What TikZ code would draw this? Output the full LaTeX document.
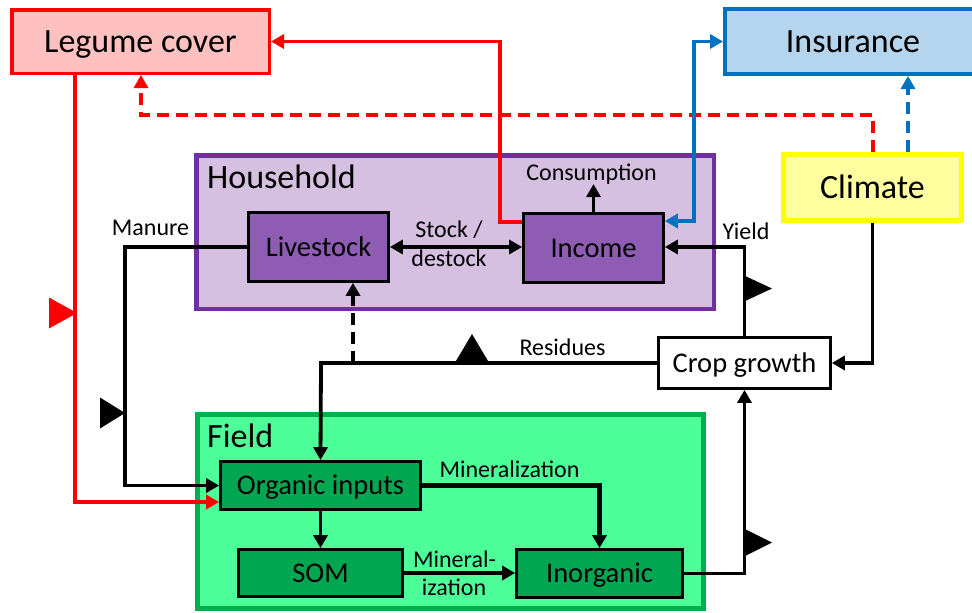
\documentclass[tikz,border=0pt]{standalone}
\usepackage{fontspec}
\setmainfont{Carlito}
\usetikzlibrary{arrows.meta}

\definecolor{legfill}{RGB}{255,192,192}
\definecolor{insfill}{RGB}{180,213,237}
\definecolor{insdraw}{RGB}{0,112,192}
\definecolor{hhfill}{RGB}{214,192,225}
\definecolor{hhdraw}{RGB}{112,48,160}
\definecolor{hhbox}{RGB}{142,92,178}
\definecolor{clifill}{RGB}{255,255,160}
\definecolor{clidraw}{RGB}{255,255,0}
\definecolor{fldfill}{RGB}{76,255,152}
\definecolor{flddraw}{RGB}{0,176,80}
\definecolor{fldbox}{RGB}{0,166,80}

\tikzset{
  box/.style={draw, rectangle, inner sep=0pt, text depth=0pt},
  bigtxt/.style={font=\fontsize{34}{40}\selectfont, text height=21.8pt},
  midtxt/.style={font=\fontsize{28.5}{34}\selectfont, text height=18.2pt},
  titletxt/.style={font=\fontsize{34}{40}\selectfont},
  labtxt/.style={font=\fontsize{24}{28}\selectfont, inner sep=0pt},
  conn/.style={line width=3.8pt},
  arr/.style={-{Triangle[length=13pt,width=14pt]}},
  dblarr/.style={{Triangle[length=13pt,width=14pt]}-{Triangle[length=13pt,width=14pt]}},
  dashline/.style={dash pattern=on 12pt off 7pt},
}

\begin{document}
\begin{tikzpicture}[x=1pt,y=-1pt]
\useasboundingbox (0,0) rectangle (972,613);
\clip (0,0) rectangle (972,613);

% group frames
\node[box, fill=hhfill, draw=hhdraw, line width=4.5pt, minimum width=517.5, minimum height=153.5] (household) at (455,232) {};
\node[anchor=base west, titletxt, inner sep=0pt] (hhtitle) at (207,188) {Household};
\node[box, fill=fldfill, draw=flddraw, line width=4.5pt, minimum width=506, minimum height=194] (field) at (450.5,511.5) {};
\node[anchor=base west, titletxt, inner sep=0pt] (fldtitle) at (207,447) {Field};

% outer boxes
\node[box, bigtxt, fill=legfill, draw=red, line width=3.5pt, minimum width=257.5, minimum height=63.5] (legume) at (140.5,41.5) {Legume cover};
\node[box, bigtxt, fill=insfill, draw=insdraw, line width=4pt, minimum width=256, minimum height=65] (insurance) at (853,41.5) {Insurance};
\node[box, bigtxt, fill=clifill, draw=clidraw, line width=5pt, minimum width=178, minimum height=66] (climate) at (872.5,187.5) {Climate};

% inner boxes
\node[box, midtxt, fill=hhbox, line width=2.7pt, minimum width=140, minimum height=69] (livestock) at (318.5,247) {Livestock};
\node[box, midtxt, fill=hhbox, line width=2.7pt, minimum width=140, minimum height=69] (income) at (593.5,248) {Income};
\node[box, midtxt, fill=white, line width=2.7pt, minimum width=172, minimum height=51] (crop) at (744.5,363) {Crop growth};
\node[box, midtxt, fill=fldbox, line width=2.7pt, minimum width=200, minimum height=48] (organic) at (320.5,485.5) {Organic inputs};
\node[box, midtxt, fill=fldbox, line width=2.7pt, minimum width=164, minimum height=47] (som) at (320.5,573) {SOM};
\node[box, midtxt, fill=fldbox, line width=2.7pt, minimum width=166, minimum height=48] (inorganic) at (599.5,573.5) {Inorganic};

% labels
\node[labtxt, anchor=base] (cons) at (591.5,180) {Consumption};
\node[labtxt, anchor=base] (manure) at (150.5,235) {Manure};
\node[labtxt, anchor=base] (stockA) at (449,237) {Stock /};
\node[labtxt, anchor=base] (stockB) at (449,266) {destock};
\node[labtxt, anchor=base] (yield) at (746,239) {Yield};
\node[labtxt, anchor=base] (residues) at (562.5,355) {Residues};
\node[labtxt, anchor=base] (minA) at (509.5,477) {Mineralization};
\node[labtxt, anchor=base] (minB) at (454.5,567) {Mineral-};
\node[labtxt, anchor=base] (minC) at (454,595) {ization};

% red links
\draw[conn, red, arr] (legume.south -| 75,0) -- (75,502) -- (organic.west |- 0,502);
\draw[conn, red, arr] (income.west |- 0,222) -- (500,222) -- (500,41.5) -- (legume.east);
\draw[conn, red, dashline, arr] (climate.north -| 873,0) -- (873,115) -- (141,115) -- (legume.south -| 141,0);

% blue links
\draw[conn, insdraw, dashline, arr] (climate.north -| 908,0) -- (insurance.south -| 908,0);
\draw[conn, insdraw, dblarr] (income.east |- 0,221) -- (694,221) -- (694,41.5) -- (insurance.west);

% household links
\draw[conn, arr] (income.north) -- (income.north |- cons.south);
\draw[conn, dblarr] (livestock.east) -- (livestock.east -| income.west);
\draw[conn, arr] (livestock.west) -- (125,247) -- (125,485.5) -- (organic.west);

% crop links
\coordinate (rjoin) at (353,363);
\draw[conn, arr] (crop.west) -- (321,363) -- (organic.north);
\draw[conn, dashline, arr] (rjoin) -- (livestock.south -| rjoin);
\draw[conn, arr] (crop.north) -- (crop.north |- 0,247) -- (income.east |- 0,247);
\draw[conn, arr] (climate.south) -- (climate.south |- crop.east) -- (crop.east);
\draw[conn, arr] (inorganic.east) -- (inorganic.east -| crop.south) -- (crop.south);

% field links
\draw[line width=5pt, arr] (organic.east) -- (organic.east -| inorganic.north) -- (inorganic.north);
\draw[conn, arr] (organic.south) -- (organic.south |- som.north);
\draw[conn, arr] (som.east) -- (som.east -| inorganic.west);

% flow markers
\coordinate (mkred) at (77,313);
\fill[red] (mkred) -- ++(-28,-15.5) -- ++(0,31) -- cycle;
\coordinate (mkman) at (125,413);
\fill (mkman) -- ++(-25,-15.5) -- ++(0,31) -- cycle;
\coordinate (mkres) at (472,334);
\fill (mkres) -- ++(-16,27) -- ++(32,0) -- cycle;
\coordinate (mkyld) at (743,275);
\fill (mkyld) -- ++(29,13.5) -- ++(-29,13.5) -- cycle;
\coordinate (mkinorg) at (743,528);
\fill (mkinorg) -- ++(29,14.5) -- ++(-29,14.5) -- cycle;
\end{tikzpicture}
\end{document}
